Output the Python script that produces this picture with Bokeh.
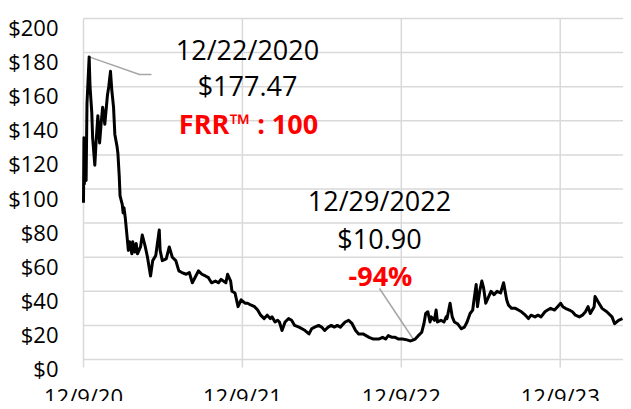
import pandas as pd
from bokeh.plotting import figure
from bokeh.models import ColumnDataSource, Label, Range1d
from bokeh.embed import file_html
from bokeh.resources import INLINE

# ---- data ----
dates = [
    "2020-12-09", "2020-12-10", "2020-12-11", "2020-12-14", "2020-12-15", "2020-12-17",
    "2020-12-22", "2020-12-24", "2020-12-28", "2020-12-30", "2021-01-04", "2021-01-07",
    "2021-01-11", "2021-01-15", "2021-01-19", "2021-01-22", "2021-01-27", "2021-02-02",
    "2021-02-05", "2021-02-09", "2021-02-12", "2021-02-16", "2021-02-19", "2021-02-24",
    "2021-02-26", "2021-03-01", "2021-03-03", "2021-03-08", "2021-03-10", "2021-03-12",
    "2021-03-15", "2021-03-18", "2021-03-22", "2021-03-25", "2021-03-30", "2021-04-01",
    "2021-04-06", "2021-04-09", "2021-04-12", "2021-04-19", "2021-04-23", "2021-04-30",
    "2021-05-05", "2021-05-12", "2021-05-17", "2021-05-24", "2021-06-01", "2021-06-03",
    "2021-06-08", "2021-06-17", "2021-06-24", "2021-07-01", "2021-07-09", "2021-07-16",
    "2021-07-23", "2021-08-02", "2021-08-09", "2021-08-16", "2021-08-24", "2021-08-30",
    "2021-09-07", "2021-09-15", "2021-09-22", "2021-09-29", "2021-10-08", "2021-10-15",
    "2021-10-21", "2021-11-01", "2021-11-05", "2021-11-12", "2021-11-15", "2021-11-22",
    "2021-11-29", "2021-12-06", "2021-12-15", "2021-12-21", "2021-12-28", "2022-01-06",
    "2022-01-13", "2022-01-20", "2022-01-28", "2022-02-04", "2022-02-11", "2022-02-15",
    "2022-02-22", "2022-02-28", "2022-03-04", "2022-03-10", "2022-03-17", "2022-03-25",
    "2022-04-01", "2022-04-08", "2022-04-18", "2022-04-25", "2022-05-02", "2022-05-11",
    "2022-05-17", "2022-05-24", "2022-06-02", "2022-06-09", "2022-06-16", "2022-06-24",
    "2022-07-01", "2022-07-08", "2022-07-15", "2022-07-22", "2022-08-02", "2022-08-10",
    "2022-08-18", "2022-08-26", "2022-09-02", "2022-09-12", "2022-09-19", "2022-09-26",
    "2022-10-06", "2022-10-18", "2022-10-27", "2022-11-03", "2022-11-09", "2022-11-18",
    "2022-11-25", "2022-12-02", "2022-12-12", "2022-12-22", "2022-12-29", "2023-01-03",
    "2023-01-10", "2023-01-17", "2023-01-25", "2023-01-30", "2023-02-03", "2023-02-08",
    "2023-02-13", "2023-02-16", "2023-02-23", "2023-02-27", "2023-03-02", "2023-03-10",
    "2023-03-17", "2023-03-22", "2023-03-24", "2023-03-31", "2023-04-05", "2023-04-10",
    "2023-04-17", "2023-04-26", "2023-05-03", "2023-05-09", "2023-05-16", "2023-05-22",
    "2023-05-25", "2023-05-30", "2023-06-02", "2023-06-07", "2023-06-12", "2023-06-16",
    "2023-06-21", "2023-07-03", "2023-07-10", "2023-07-17", "2023-07-25", "2023-08-01",
    "2023-08-08", "2023-08-12", "2023-08-19", "2023-08-28", "2023-09-04", "2023-09-11",
    "2023-09-20", "2023-09-27", "2023-10-03", "2023-10-12", "2023-10-19", "2023-10-26",
    "2023-11-04", "2023-11-10", "2023-11-17", "2023-11-26", "2023-12-03", "2023-12-10",
    "2023-12-15", "2023-12-21", "2023-12-30", "2024-01-06", "2024-01-13", "2024-01-22",
    "2024-01-29", "2024-02-05", "2024-02-11", "2024-02-16", "2024-02-25", "2024-02-27",
    "2024-03-07", "2024-03-14", "2024-03-25", "2024-04-06", "2024-04-12", "2024-04-21",
    "2024-04-30",
]
prices = [
    92, 130, 103, 128, 105, 150,
    177.47, 160, 145, 130, 114, 128,
    143, 127, 140, 148, 138, 155,
    160, 169, 158, 148, 132, 125,
    121, 108, 96, 91, 86, 89,
    83, 75, 64, 69, 62, 69,
    63, 68, 62, 66, 73, 66,
    60, 49, 58, 61, 76, 64,
    58, 59, 66, 60, 58, 52,
    51, 50, 51, 45, 49, 52,
    50, 49, 48, 45, 46, 45,
    47, 45, 50, 46, 40, 39,
    31, 35, 33, 33, 32, 31,
    29, 26, 24, 26, 24, 25,
    22, 23, 22, 17, 22, 24,
    23, 20, 19, 18, 17, 15,
    18, 19, 20, 19, 17, 19,
    20, 19, 20, 19, 22, 23,
    21, 17, 15, 15, 14, 13,
    12, 12, 13, 12, 14, 13,
    13, 12, 12, 11.5, 10.90, 11.2,
    12, 14, 16, 21, 27, 28,
    22, 25, 23, 29, 22, 23,
    22, 25, 24, 33, 25, 22,
    21, 18, 19, 22, 27, 29,
    35, 44, 31, 40, 46, 42,
    33, 40, 38, 40, 39, 45,
    35, 32, 30, 30, 29, 28,
    26, 24, 26, 25, 26, 25,
    28, 29, 30, 29, 31, 33,
    31, 30, 29, 28, 26, 25,
    26, 28, 31, 27, 31, 37,
    33, 30, 28, 25, 21, 23,
    24,
]
x_tick_dates = ["2020-12-09", "2021-12-09", "2022-12-09", "2023-12-09"]
x_tick_labels = ["12/9/20", "12/9/21", "12/9/22", "12/9/23"]
y_ticks = [0, 20, 40, 60, 80, 100, 120, 140, 160, 180, 200]
y_tick_labels = ["$0", "$20", "$40", "$60", "$80", "$100", "$120", "$140",
                 "$160", "$180", "$200"]

peak_date, peak_price = "2020-12-22", 177.47
low_date, low_price = "2022-12-29", 10.90
peak_lines = ["12/22/2020", "$177.47"]
peak_note = "FRR™ : 100"
low_lines = ["12/29/2022", "$10.90"]
low_note = "-94%"

# ---- layout helpers: picture pixel -> data coordinates ----
W, H = 623, 401
ORIGIN = pd.Timestamp(x_tick_dates[0])
ORIGIN_PX = 83             # picture x of the first date tick
DAYS_PER_PX = 2.297
TOP_PY = 18                # picture y of $200
ZERO_PY = 359              # picture y of $0
PX_PER_UNIT = (ZERO_PY - TOP_PY) / 200.0


def px_to_date(px):
    return ORIGIN + pd.Timedelta(days=(px - ORIGIN_PX) * DAYS_PER_PX)


def py_to_val(py):
    return (ZERO_PY - py) / PX_PER_UNIT


x_start, x_end = px_to_date(0), px_to_date(W)
y_start, y_end = py_to_val(H), py_to_val(0)

dt = pd.to_datetime(dates)
src = ColumnDataSource(data=dict(x=dt, y=prices))

p = figure(width=W, height=H, x_axis_type="datetime",
           output_backend="svg", toolbar_location=None,
           x_range=Range1d(x_start, x_end), y_range=Range1d(y_start, y_end),
           min_border_left=0, min_border_right=0, min_border_top=0,
           min_border_bottom=0)
p.outline_line_color = None
p.background_fill_color = "white"
p.border_fill_color = "white"
p.xaxis.visible = False
p.yaxis.visible = False
p.xgrid.visible = False
p.ygrid.visible = False

FONT = "Open Sans"
GRID = "#D9D9D9"

# horizontal grid lines
n = len(y_ticks)
p.segment(x0=[ORIGIN] * n, y0=y_ticks, x1=[x_end] * n, y1=y_ticks,
          line_color=GRID, line_width=1.5)
# vertical grid lines (poke 8px below $0 like tick marks)
tick_dt = pd.to_datetime(x_tick_dates)
m = len(tick_dt)
p.segment(x0=tick_dt, y0=[py_to_val(ZERO_PY + 8)] * m, x1=tick_dt,
          y1=[y_ticks[-1]] * m, line_color=GRID, line_width=1.5)

# y tick labels
for v, t in zip(y_ticks, y_tick_labels):
    p.add_layout(Label(x=px_to_date(58), y=v - 8.5 / PX_PER_UNIT, text=t,
                       text_font=FONT, text_font_size="22px",
                       text_color="black", text_align="right",
                       text_baseline="alphabetic"))
# x tick labels
for d, t in zip(x_tick_dates, x_tick_labels):
    p.add_layout(Label(x=pd.Timestamp(d), y=py_to_val(395), text=t,
                       text_font=FONT, text_font_size="22px",
                       text_color="black", text_align="center",
                       text_baseline="alphabetic"))

# leader lines
p.line(x=[pd.Timestamp(peak_date), px_to_date(139), px_to_date(151)],
       y=[peak_price, py_to_val(74), py_to_val(74)],
       line_color="#A6A6A6", line_width=1.5)
p.line(x=[px_to_date(379), px_to_date(413)],
       y=[py_to_val(288), py_to_val(339)],
       line_color="#A6A6A6", line_width=1.5)

# price line
p.line("x", "y", source=src, line_color="black", line_width=3,
       line_join="round")


def lab(px, py, text, color="black", bold=False):
    p.add_layout(Label(x=px_to_date(px), y=py_to_val(py), text=text,
                       text_font=FONT, text_font_size="27px",
                       text_color=color, text_align="center",
                       text_baseline="alphabetic",
                       text_font_style="bold" if bold else "normal"))


lab(247, 49, peak_lines[0])
lab(247, 85, peak_lines[1])
lab(248, 123, peak_note, color="#FF0000", bold=True)
lab(379, 200, low_lines[0])
lab(379, 238, low_lines[1])
lab(380, 275, low_note, color="#FF0000", bold=True)

open("out.html", "w").write(file_html(p, INLINE))
